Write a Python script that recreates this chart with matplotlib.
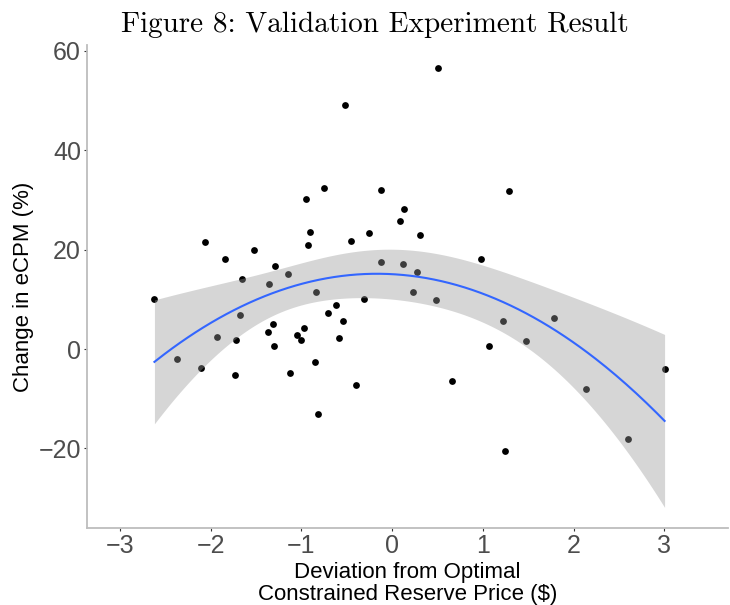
import numpy as np
import matplotlib.pyplot as plt

plt.rcParams['font.family'] = ['Liberation Sans', 'DejaVu Sans']

# deviation from optimal constrained reserve price ($)
deviation = [-0.516, -0.747, -0.953, -0.127, 0.130, 0.083, -0.902, -0.259,
             -0.450, -0.923, -2.058, -1.526, -1.846, -1.295, -1.144, -1.655,
             -1.353, -0.119, 0.116, 0.278, 0.509, 1.291, 0.306, 0.979,
             -2.620, -0.843, -1.677, -1.926, -1.725, -2.367, -2.110, -1.736,
             -1.313, -1.364, -1.306, -0.972, -1.052, -1.001, -1.122, -0.854,
             -0.821, -0.703, -0.615, -0.538, -0.590, -0.306, -0.395, 0.233,
             0.487, 1.221, 1.783, 1.071, 1.471, 0.659, 3.003, 2.136,
             2.599, 1.243]
# change in eCPM (%)
ecpm_change = [49.1, 32.5, 30.3, 32.0, 28.2, 25.7, 23.5, 23.3,
               21.7, 20.9, 21.5, 20.0, 18.2, 16.7, 15.1, 14.1,
               13.2, 17.6, 17.2, 15.5, 56.6, 31.9, 22.9, 18.1,
               10.0, 11.5, 6.8, 2.5, 1.9, -1.9, -3.9, -5.3,
               5.1, 3.5, 0.6, 4.2, 2.9, 1.8, -4.8, -2.6,
               -13.1, 7.2, 8.9, 5.7, 2.2, 10.0, -7.3, 11.5,
               9.8, 5.6, 6.2, 0.7, 1.7, -6.4, -4.0, -8.0,
               -18.0, -20.5]

x_ticks = [-3, -2, -1, 0, 1, 2, 3]
y_ticks = [-20, 0, 20, 40, 60]

x = np.array(deviation)
y = np.array(ecpm_change)

# quadratic fit with 95% confidence band (like geom_smooth(method='lm', y ~ poly(x, 2)))
X = np.column_stack([np.ones_like(x), x, x ** 2])
beta, _, _, _ = np.linalg.lstsq(X, y, rcond=None)
resid = y - X @ beta
dof = len(x) - 3
s2 = resid @ resid / dof
cov = s2 * np.linalg.inv(X.T @ X)
t_crit = 2.004  # t(0.975, df=55)

xs = np.linspace(x.min(), x.max(), 200)
Xs = np.column_stack([np.ones_like(xs), xs, xs ** 2])
fit = Xs @ beta
se = np.sqrt(np.einsum('ij,jk,ik->i', Xs, cov, Xs))

fig = plt.figure(figsize=(7.3, 6.05), dpi=100)
ax = fig.add_axes([0.1196, 0.1273, 0.8774, 0.7983])

ax.scatter(x, y, s=24, c='black', linewidths=0, zorder=2)
ax.fill_between(xs, fit - t_crit * se, fit + t_crit * se, color='#999999',
                alpha=0.4, linewidth=0, zorder=3)
ax.plot(xs, fit, color='#3366FF', lw=1.5, zorder=4)

ax.set_xlim(-3.36, 3.70)
ax.set_ylim(-36, 61.2)
ax.set_xticks(x_ticks)
ax.set_yticks(y_ticks)

for side in ['top', 'right']:
    ax.spines[side].set_visible(False)
for side in ['left', 'bottom']:
    ax.spines[side].set_color('#bdbdbd')
    ax.spines[side].set_linewidth(1.3)
ax.tick_params(axis='both', labelsize=18, labelcolor='#4d4d4d', color='#333333',
               length=2.5, width=0.8, pad=2)

ax.set_xlabel('Deviation from Optimal\nConstrained Reserve Price (\\$)', fontsize=16,
              linespacing=1.05, labelpad=2.5)
ax.set_ylabel('Change in eCPM (%)', fontsize=16, labelpad=3)

fig.text(375 / 730, 1 - 32 / 605, 'Figure 8: Validation Experiment Result',
         family='cmr10', fontsize=21, ha='center', va='baseline')

fig.savefig('out.png', dpi=100)
